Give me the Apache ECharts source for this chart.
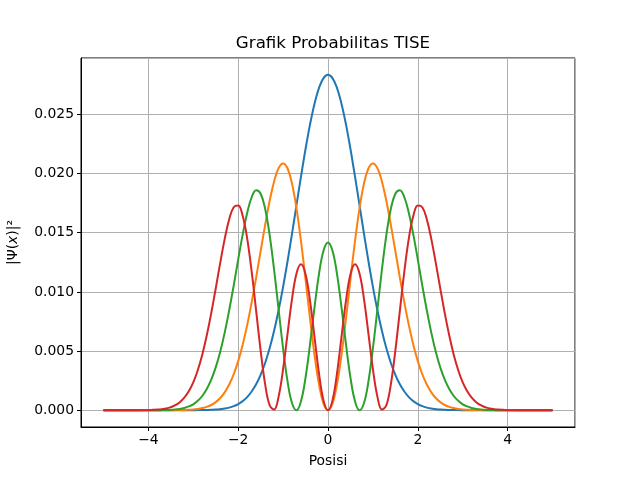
<!DOCTYPE html>
<html>
<head>
<meta charset="utf-8">
<title>Grafik Probabilitas TISE</title>
<script src="https://cdn.jsdelivr.net/npm/echarts@6/dist/echarts.min.js"></script>
<style>
  html, body { margin: 0; padding: 0; background: #fff; }
  #chart { width: 640px; height: 480px; }
</style>
</head>
<body>
<div id="chart"></div>
<script>
// posisi (sumbu x)
const xs = [
  -5, -4.5,
  -4.0, -3.9, -3.8, -3.7, -3.6, -3.5, -3.4, -3.3, -3.2, -3.1,
  -3.0, -2.9, -2.8, -2.7, -2.6, -2.5, -2.4, -2.3, -2.2, -2.1,
  -2.0, -1.9, -1.8, -1.7, -1.6, -1.5, -1.4, -1.3, -1.2, -1.1,
  -1.0, -0.9, -0.8, -0.7, -0.6, -0.5, -0.4, -0.3, -0.2, -0.1,
  0,
  0.1, 0.2, 0.3, 0.4, 0.5, 0.6, 0.7, 0.8, 0.9, 1.0,
  1.1, 1.2, 1.3, 1.4, 1.5, 1.6, 1.7, 1.8, 1.9, 2.0,
  2.1, 2.2, 2.3, 2.4, 2.5, 2.6, 2.7, 2.8, 2.9, 3.0,
  3.1, 3.2, 3.3, 3.4, 3.5, 3.6, 3.7, 3.8, 3.9, 4.0,
  4.5, 5
];

// |psi_n(x)|^2, n = 0..3
const psi0 = [
  0, 0,
  0, 0, 0, 0, 0, 0, 0, 0, 0, 0,
  0, 0.00001, 0.00001, 0.00002, 0.00003, 0.00005, 0.00009, 0.00014, 0.00022, 0.00034,
  0.00052, 0.00077, 0.00111, 0.00158, 0.00219, 0.00299, 0.00399, 0.00523, 0.00672, 0.00845,
  0.01043, 0.01261, 0.01495, 0.01737, 0.01978, 0.02208, 0.02416, 0.02591, 0.02724, 0.02807,
  0.02835,
  0.02807, 0.02724, 0.02591, 0.02416, 0.02208, 0.01978, 0.01737, 0.01495, 0.01261, 0.01043,
  0.00845, 0.00672, 0.00523, 0.00399, 0.00299, 0.00219, 0.00158, 0.00111, 0.00077, 0.00052,
  0.00034, 0.00022, 0.00014, 0.00009, 0.00005, 0.00003, 0.00002, 0.00001, 0.00001, 0,
  0, 0, 0, 0, 0, 0, 0, 0, 0, 0,
  0, 0
];

const psi1 = [
  0, 0,
  0, 0, 0, 0, 0, 0, 0.00001, 0.00001, 0.00002, 0.00004,
  0.00006, 0.00011, 0.00018, 0.00028, 0.00044, 0.00068, 0.00103, 0.00151, 0.00217, 0.00304,
  0.00415, 0.00554, 0.00719, 0.00911, 0.01122, 0.01345, 0.01565, 0.01768, 0.01934, 0.02046,
  0.02086, 0.02043, 0.01913, 0.01702, 0.01424, 0.01104, 0.00773, 0.00466, 0.00218, 0.00056,
  0,
  0.00056, 0.00218, 0.00466, 0.00773, 0.01104, 0.01424, 0.01702, 0.01913, 0.02043, 0.02086,
  0.02046, 0.01934, 0.01768, 0.01565, 0.01345, 0.01122, 0.00911, 0.00719, 0.00554, 0.00415,
  0.00304, 0.00217, 0.00151, 0.00103, 0.00068, 0.00044, 0.00028, 0.00018, 0.00011, 0.00006,
  0.00004, 0.00002, 0.00001, 0.00001, 0, 0, 0, 0, 0, 0,
  0, 0
];

const psi2 = [
  0, 0,
  0, 0, 0, 0.00001, 0.00002, 0.00004, 0.00007, 0.00011, 0.00019, 0.00032,
  0.00050, 0.00079, 0.00120, 0.00179, 0.00258, 0.00362, 0.00494, 0.00656, 0.00845, 0.01053,
  0.01273, 0.01484, 0.01667, 0.01800, 0.01860, 0.01830, 0.01703, 0.01482, 0.01187, 0.00852,
  0.00522, 0.00242, 0.00059, 0.00000, 0.00078, 0.00276, 0.00559, 0.00871, 0.01153, 0.01348,
  0.01418,
  0.01348, 0.01153, 0.00871, 0.00559, 0.00276, 0.00078, 0.00000, 0.00059, 0.00242, 0.00522,
  0.00852, 0.01187, 0.01482, 0.01703, 0.01830, 0.01860, 0.01800, 0.01667, 0.01484, 0.01273,
  0.01053, 0.00845, 0.00656, 0.00494, 0.00362, 0.00258, 0.00179, 0.00120, 0.00079, 0.00050,
  0.00032, 0.00019, 0.00011, 0.00007, 0.00004, 0.00002, 0.00001, 0, 0, 0,
  0, 0
];

const psi3 = [
  0, 0,
  0.00001, 0.00003, 0.00005, 0.00009, 0.00015, 0.00026, 0.00042, 0.00068, 0.00106, 0.00160,
  0.00235, 0.00338, 0.00469, 0.00631, 0.00820, 0.01029, 0.01245, 0.01448, 0.01614, 0.01715,
  0.01731, 0.01643, 0.01452, 0.01173, 0.00840, 0.00504, 0.00221, 0.00043, 0.00005, 0.00115,
  0.00348, 0.00648, 0.00943, 0.01158, 0.01234, 0.01150, 0.00925, 0.00618, 0.00310, 0.00083,
  0,
  0.00083, 0.00310, 0.00618, 0.00925, 0.01150, 0.01234, 0.01158, 0.00943, 0.00648, 0.00348,
  0.00115, 0.00005, 0.00043, 0.00221, 0.00504, 0.00840, 0.01173, 0.01452, 0.01643, 0.01731,
  0.01715, 0.01614, 0.01448, 0.01245, 0.01029, 0.00820, 0.00631, 0.00469, 0.00338, 0.00235,
  0.00160, 0.00106, 0.00068, 0.00042, 0.00026, 0.00015, 0.00009, 0.00005, 0.00003, 0.00001,
  0, 0
];

const seriesData = [psi0, psi1, psi2, psi3];
const colors = ['#1f77b4', '#ff7f0e', '#2ca02c', '#d62728'];

const FONT = 'DejaVu Sans';
const minus = v => String(v).replace('-', '\u2212');

const chart = echarts.init(document.getElementById('chart'), null, { renderer: 'canvas' });

chart.setOption({
  animation: false,
  backgroundColor: '#fff',
  textStyle: { fontFamily: FONT },
  title: {
    text: 'Grafik Probabilitas TISE',
    left: 328,
    textAlign: 'center',
    top: 30,
    textStyle: { fontFamily: FONT, fontSize: 16.7, fontWeight: 'normal', color: '#000' }
  },
  grid: {
    left: 81, right: 65, top: 58, bottom: 53,
    outerBoundsMode: 'none',
    containLabel: false,
    show: true, borderColor: '#000', borderWidth: 1, backgroundColor: 'transparent'
  },
  xAxis: {
    type: 'value',
    min: -5.5, max: 5.5,
    name: 'Posisi',
    nameLocation: 'middle',
    nameGap: 27,
    nameTextStyle: { fontFamily: FONT, fontSize: 13.9, color: '#000', verticalAlign: 'top' },
    axisLine: { show: true, onZero: false, lineStyle: { color: '#000', width: 1 } },
    axisTick: { show: true, length: 4, lineStyle: { color: '#000' } },
    axisLabel: {
      margin: 6, fontFamily: FONT, fontSize: 13.9, color: '#000',
      showMinLabel: false, showMaxLabel: false,
      formatter: minus
    },
    splitLine: { show: true, lineStyle: { color: '#b0b0b0', width: 1 } }
  },
  yAxis: {
    type: 'value',
    min: -0.00142, max: 0.02977,
    name: '|Ψ({i|x})|²',
    nameLocation: 'middle',
    nameRotate: 90,
    nameGap: 61,
    nameTextStyle: {
      fontFamily: FONT, fontSize: 13.9, color: '#000',
      rich: { i: { fontFamily: FONT, fontSize: 13.9, fontStyle: 'italic', color: '#000' } }
    },
    axisLine: { show: true, onZero: false, lineStyle: { color: '#000', width: 1 } },
    axisTick: { show: true, length: 4, lineStyle: { color: '#000' } },
    axisLabel: {
      margin: 7, fontFamily: FONT, fontSize: 13.9, color: '#000',
      showMinLabel: false, showMaxLabel: false,
      formatter: v => v.toFixed(3)
    },
    splitLine: { show: true, lineStyle: { color: '#b0b0b0', width: 1 } }
  },
  series: seriesData.map((ys, k) => ({
    type: 'line',
    data: xs.map((x, i) => [x, ys[i]]),
    showSymbol: false,
    smooth: 0.4,
    lineStyle: { color: colors[k], width: 2 },
    itemStyle: { color: colors[k] },
    z: 2 + k
  }))
});
</script>
</body>
</html>
